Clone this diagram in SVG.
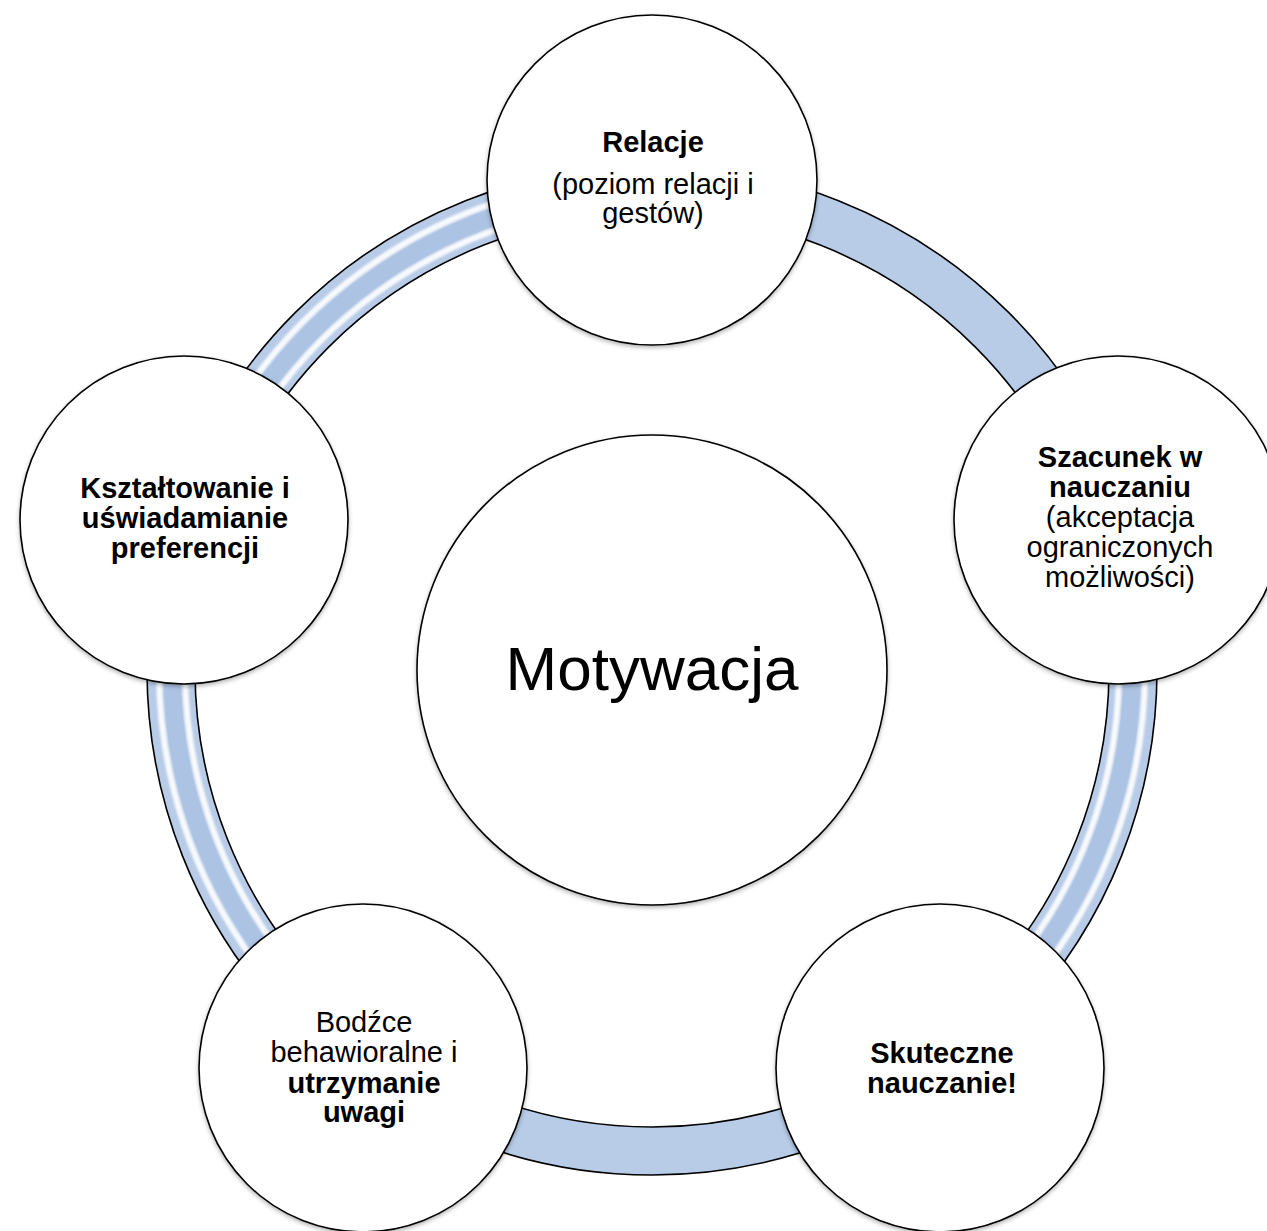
<svg xmlns="http://www.w3.org/2000/svg" width="1267" height="1231" viewBox="0 0 1267 1231">
  <defs>
    <filter id="shadow" x="-10%" y="-10%" width="120%" height="125%">
      <feDropShadow dx="0" dy="2" stdDeviation="2" flood-color="#000" flood-opacity="0.3"/>
    </filter>
    <filter id="soft" x="-5%" y="-5%" width="110%" height="110%">
      <feGaussianBlur stdDeviation="1.3"/>
    </filter>
  </defs>
  <style>
    .node { fill: #ffffff; stroke: #000000; stroke-width: 1.6; filter: url(#shadow); }
    .band { fill: none; stroke: #b8cce8; stroke-width: 48; }
    .edge { fill: none; stroke: #000000; stroke-width: 1.6; }
    .core { fill: none; stroke: #adc3e4; stroke-width: 18; }
    .hl { fill: none; stroke: #ffffff; stroke-width: 6; opacity: 0.9; filter: url(#soft); }
    text { font-family: "Liberation Sans", Arial, sans-serif; fill: #000000; text-anchor: middle; }
    .t { font-size: 29px; }
    .b { font-weight: bold; }
    .big { font-size: 62px; }
  </style>
  <rect width="1267" height="1231" fill="#ffffff"/>
  <g id="connectors">
    <circle class="band" cx="652" cy="670" r="481"/>
    <path class="core" d="M195.49,521.67 A480,480 0 0 1 652,190"/>
    <path class="core" d="M1108.51,521.67 A480,480 0 0 1 934.14,1058.33"/>
    <path class="core" d="M369.86,1058.33 A480,480 0 0 1 195.49,521.67"/>
    <path class="hl" d="M207.86,525.69 A467,467 0 0 1 652,203"/>
    <path class="hl" d="M183.13,517.65 A493,493 0 0 1 652,177"/>
    <path class="hl" d="M1096.14,525.69 A467,467 0 0 1 926.50,1047.81"/>
    <path class="hl" d="M1120.87,517.65 A493,493 0 0 1 941.78,1068.85"/>
    <path class="hl" d="M377.50,1047.81 A467,467 0 0 1 207.86,525.69"/>
    <path class="hl" d="M362.22,1068.85 A493,493 0 0 1 183.13,517.65"/>
    <circle class="edge" cx="652" cy="670" r="505"/>
    <circle class="edge" cx="652" cy="670" r="457"/>
  </g>
  <g id="node-center">
    <circle class="node" cx="652" cy="670" r="235"/>
    <text class="big" x="652" y="690">Motywacja</text>
  </g>
  <g id="node-relacje">
    <circle class="node" cx="652" cy="180" r="165"/>
    <text class="t b" x="653" y="152">Relacje</text>
    <text class="t" x="653" y="194">(poziom relacji i</text>
    <text class="t" x="653" y="223">gestów)</text>
  </g>
  <g id="node-szacunek">
    <circle class="node" cx="1118" cy="520" r="164"/>
    <text class="t b" x="1120" y="467">Szacunek w</text>
    <text class="t b" x="1120" y="497">nauczaniu</text>
    <text class="t" x="1120" y="527">(akceptacja</text>
    <text class="t" x="1120" y="557">ograniczonych</text>
    <text class="t" x="1120" y="587">możliwości)</text>
  </g>
  <g id="node-skuteczne">
    <circle class="node" cx="940" cy="1068" r="164"/>
    <text class="t b" x="942" y="1063">Skuteczne</text>
    <text class="t b" x="942" y="1093">nauczanie!</text>
  </g>
  <g id="node-bodzce">
    <circle class="node" cx="363" cy="1068" r="164"/>
    <text class="t" x="364" y="1032">Bodźce</text>
    <text class="t" x="364" y="1062">behawioralne i</text>
    <text class="t b" x="364" y="1093">utrzymanie</text>
    <text class="t b" x="364" y="1122">uwagi</text>
  </g>
  <g id="node-ksztaltowanie">
    <circle class="node" cx="184" cy="520" r="164"/>
    <text class="t b" x="185" y="498">Kształtowanie i</text>
    <text class="t b" x="185" y="528">uświadamianie</text>
    <text class="t b" x="185" y="558">preferencji</text>
  </g>
</svg>
